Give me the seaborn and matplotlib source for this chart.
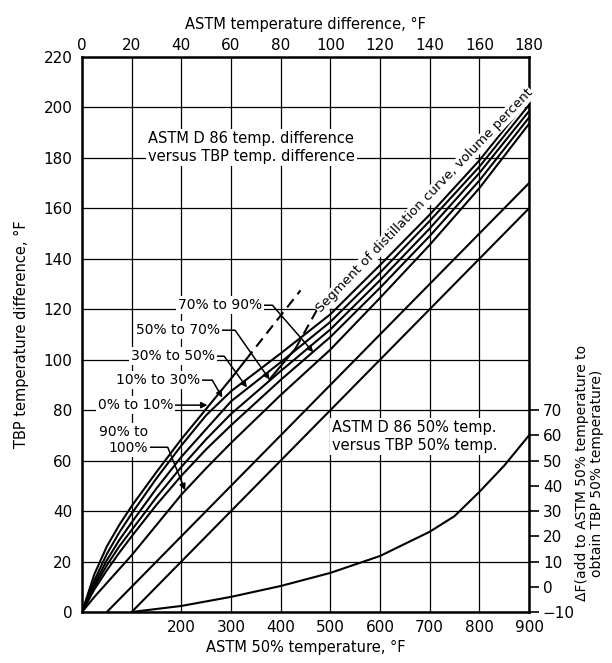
import matplotlib
matplotlib.use("Agg")
import matplotlib.pyplot as plt
import seaborn as sns

# ASTM temperature difference (top axis, deg F)
astm_diff = [0, 5, 10, 15, 20, 30, 40, 50, 60, 80, 100, 120, 140, 160, 180]

# TBP temperature difference
tbp_10_30 = [0, 12.5, 23, 31.5, 39, 53, 66, 78, 87.5, 102.5, 118, 137.5, 157.5, 179, 203.5]
tbp_30_50 = [0, 11, 20.5, 28.5, 35.5, 49, 61.5, 72.5, 83.5, 99, 115, 134.5, 155, 176.5, 201]
tbp_50_70 = [0, 10, 18.5, 26, 32.5, 45.5, 57.5, 68.5, 78.5, 95.5, 112, 131.5, 152, 174, 198.5]
tbp_70_90 = [0, 9, 16.5, 23.5, 30, 42.5, 54, 64.5, 74, 92, 109, 128.5, 149, 171, 196]
tbp_90_100 = [0, 6, 11.5, 17, 22.5, 34.5, 46.5, 57, 67, 86, 104, 124.5, 145.5, 168, 193.5]

# 0% to 10% curve stops early, then a dashed extension
astm_0_10 = [0, 5, 10, 15, 20, 30, 40, 50, 60, 66]
tbp_0_10 = [0, 15, 26, 34.5, 42, 55.5, 68.5, 80.5, 92.5, 100]
dash1_astm = [66, 88]
dash1_tbp = [100, 127.5]

# second guide line (solid part, dashed part)
guide2_astm = [75.5, 86]
guide2_tbp = [92.2, 104.5]
dash2_astm = [86, 99]
dash2_tbp = [104.5, 127.5]

# band of the 50% chart
band_hi_astm = [10, 180]
band_hi_tbp = [0, 170]
band_lo_astm = [20, 180]
band_lo_tbp = [0, 160]

# correction curve: ASTM 50% temperature vs delta F
astm50 = [100, 200, 300, 400, 500, 600, 700, 750, 800, 850, 900]
delta_f = [-10, -7.6, -4, 0.3, 5.5, 12.2, 21.8, 28, 37.6, 48, 60]

sns.set_theme(style="white")
plt.rcParams['font.family'] = ['DejaVu Sans']
plt.rcParams['font.size'] = 10
plt.rcParams['text.color'] = 'black'
plt.rcParams['axes.labelcolor'] = 'black'

fig = plt.figure(figsize=(6.12, 6.63), dpi=100)
ax = fig.add_axes([82 / 612, 51 / 663, 447 / 612, 555 / 663])

lw = 1.5
for vals in [tbp_10_30, tbp_30_50, tbp_50_70, tbp_70_90, tbp_90_100]:
    sns.lineplot(x=astm_diff, y=vals, ax=ax, color='black', lw=lw)
sns.lineplot(x=astm_0_10, y=tbp_0_10, ax=ax, color='black', lw=lw)
sns.lineplot(x=guide2_astm, y=guide2_tbp, ax=ax, color='black', lw=lw)
sns.lineplot(x=dash1_astm, y=dash1_tbp, ax=ax, color='black', lw=lw, linestyle=(0, (5, 3)))
sns.lineplot(x=dash2_astm, y=dash2_tbp, ax=ax, color='black', lw=lw, linestyle=(0, (5, 3)))
sns.lineplot(x=band_hi_astm, y=band_hi_tbp, ax=ax, color='black', lw=lw)
sns.lineplot(x=band_lo_astm, y=band_lo_tbp, ax=ax, color='black', lw=lw)

ax.set_xlim(0, 180)
ax.set_ylim(0, 220)
ax.set_xticks(range(0, 181, 20))
ax.set_yticks(range(0, 221, 20))
ax.xaxis.tick_top()
ax.xaxis.set_label_position('top')
ax.set_xlabel('ASTM temperature difference, °F', labelpad=6, fontsize=10.5)
ax.set_ylabel('TBP temperature difference, °F', labelpad=10, fontsize=10.5)
ax.tick_params(axis='both', length=0, labelsize=11, colors='black')
ax.tick_params(axis='x', pad=3)
ax.tick_params(axis='y', pad=7)
ax.grid(True, color='black', lw=0.9)
for s in ax.spines.values():
    s.set_color('black')
    s.set_linewidth(1.8)

# second axes for the 50% correction chart (bottom / right scales)
axb = fig.add_axes(ax.get_position(), frameon=False)
axb.patch.set_alpha(0)
sns.lineplot(x=astm50, y=delta_f, ax=axb, color='black', lw=lw)
axb.set_xlim(0, 900)
axb.set_ylim(-10, 210)
axb.set_xticks(range(200, 901, 100))
axb.set_yticks(range(-10, 71, 10))
axb.yaxis.tick_right()
axb.yaxis.set_label_position('right')
axb.tick_params(axis='x', length=0, pad=6, labelsize=11, colors='black')
axb.tick_params(axis='y', direction='out', length=7, width=1.2, pad=3,
                labelsize=11, colors='black', right=True)
axb.grid(False)
axb.set_xlabel('ASTM 50% temperature, °F', labelpad=3, fontsize=10.5)
axb.set_ylabel('ΔF(add to ASTM 50% temperature to\nobtain TBP 50% temperature)',
               rotation=90, fontsize=10, linespacing=1.05)
axb.yaxis.set_label_coords(1.103, 0.25)

box = dict(fc='white', ec='none', pad=1.5)
fs = 10

ax.text(26.6, 184, 'ASTM D 86 temp. difference\nversus TBP temp. difference',
        ha='left', va='center', fontsize=10.5, bbox=box, zorder=3, linespacing=1.25)
ax.text(100.8, 69.5, 'ASTM D 86 50% temp.\nversus TBP 50% temp.',
        ha='left', va='center', fontsize=10.5, bbox=box, zorder=3, linespacing=1.25)
ax.text(138, 163, 'Segment of distillation curve, volume percent', rotation=46,
        rotation_mode='anchor', ha='center', va='center', fontsize=9.5,
        bbox=dict(fc='white', ec='none', pad=0.5), zorder=3)

labels = [
    ('70% to 90%', (93.1, 103), (72.6, 121.6), -49),
    ('50% to 70%', (75.5, 92.2), (55.6, 111.7), -55),
    ('30% to 50%', (66.4, 89), (53.6, 101.4), -54),
    ('10% to 30%', (56.5, 85), (47.6, 91.9), -60),
]
for txt, tip, pos, ang in labels:
    ax.annotate(txt, xy=tip, xytext=pos, ha='right', va='center', fontsize=fs,
                bbox=box, zorder=4,
                arrowprops=dict(arrowstyle='-|>', color='black', lw=1.1,
                                mutation_scale=9, shrinkA=0, shrinkB=0,
                                connectionstyle='angle,angleA=0,angleB=%d,rad=0' % ang))
ax.annotate('0% to 10%', xy=(50.5, 82), xytext=(36.7, 82), ha='right', va='center',
            fontsize=fs, bbox=box, zorder=4,
            arrowprops=dict(arrowstyle='-|>', color='black', lw=1.1, mutation_scale=9,
                            shrinkA=0, shrinkB=0))
ax.annotate('90% to\n100%', xy=(41.5, 48.3), xytext=(26.5, 68.3), ha='right', va='center',
            multialignment='right', fontsize=fs, bbox=box, zorder=4, linespacing=1.2,
            arrowprops=dict(arrowstyle='-|>', color='black', lw=1.1, mutation_scale=9,
                            shrinkA=0, shrinkB=0, relpos=(1, 0.25),
                            connectionstyle='angle,angleA=0,angleB=-68,rad=0'))

fig.savefig('out.png', dpi=100)
